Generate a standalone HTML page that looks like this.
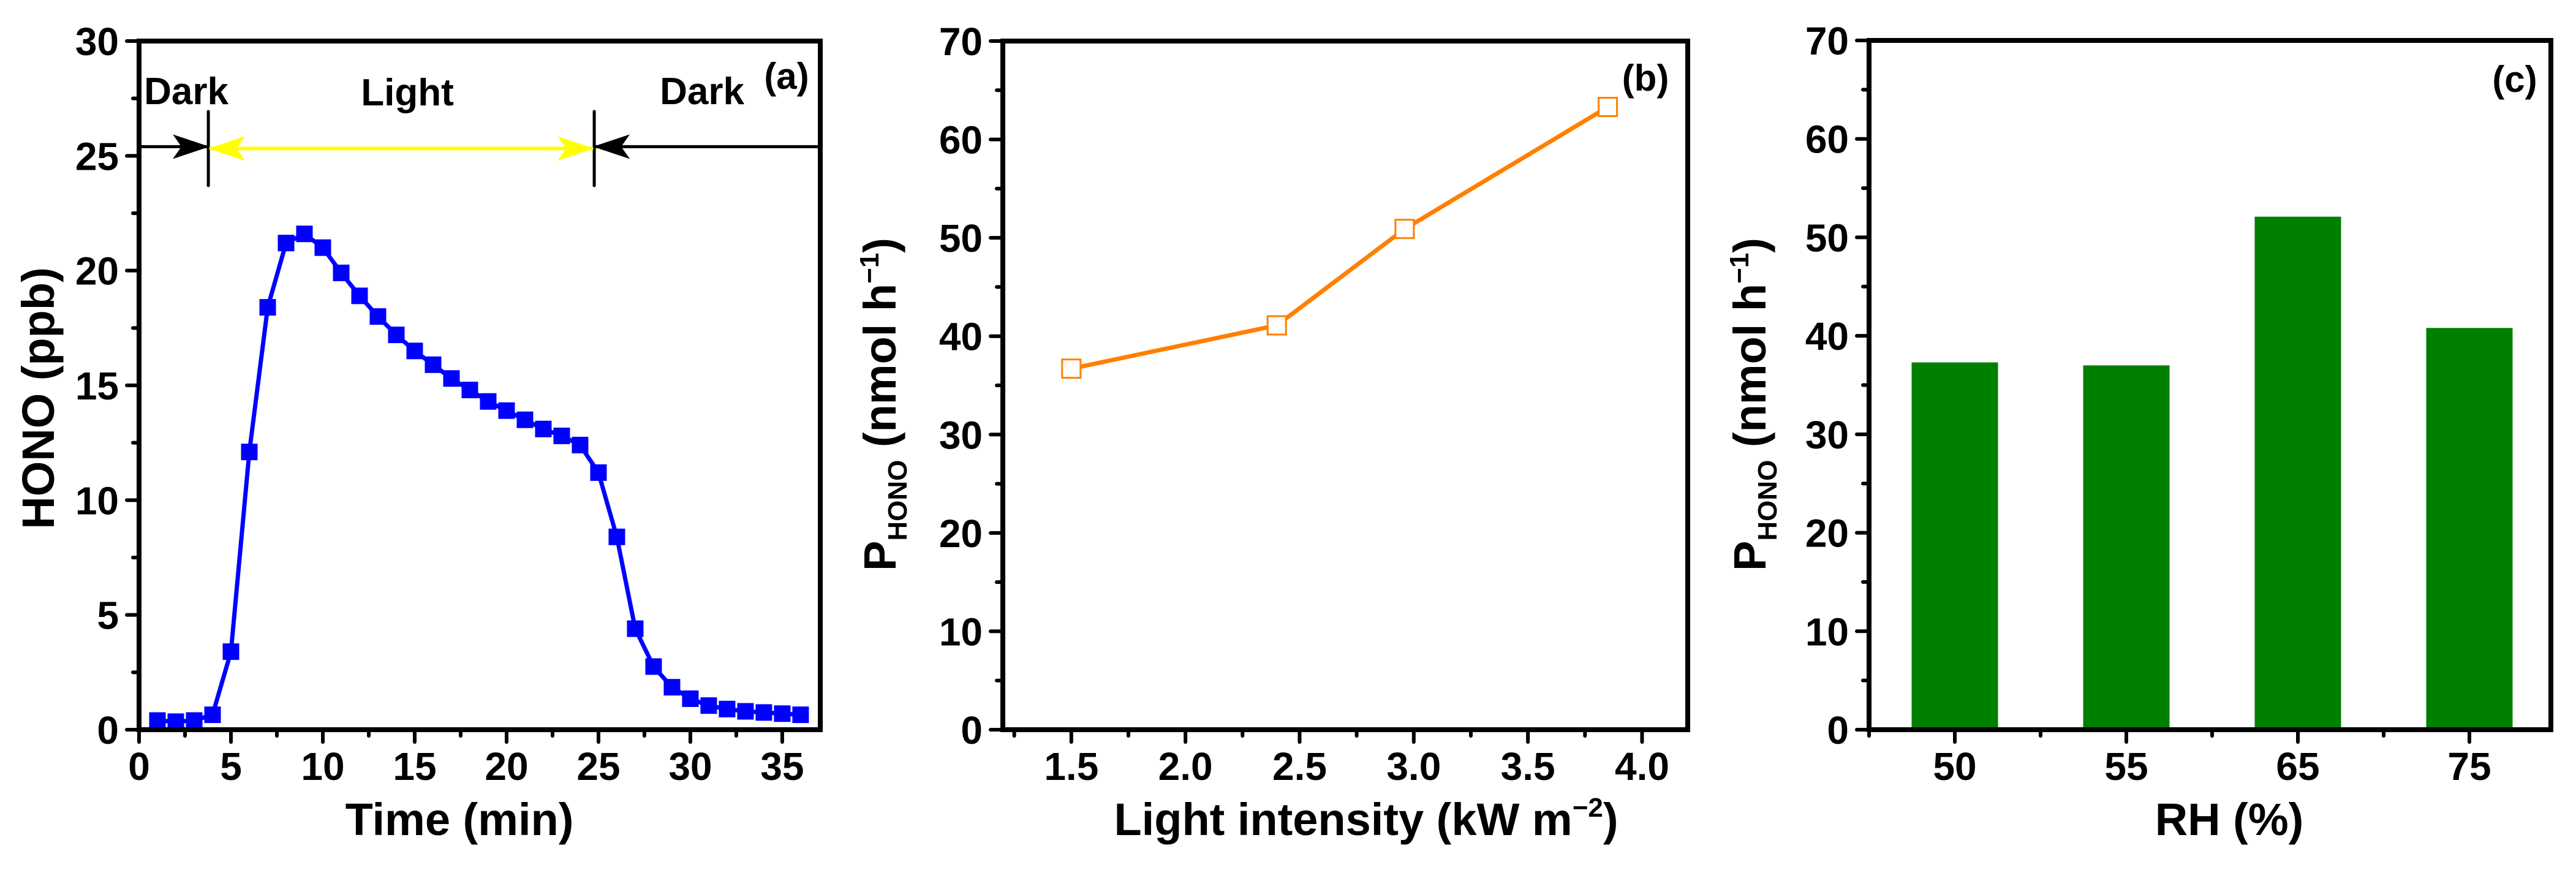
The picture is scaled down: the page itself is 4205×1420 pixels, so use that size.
<!DOCTYPE html>
<html><head><meta charset="utf-8"><style>
html,body{margin:0;padding:0;background:#fff;}
svg{display:block;}
text{font-family:"Liberation Sans",Arial,sans-serif;font-weight:bold;fill:#000;}
</style></head><body>
<svg id="fig" width="4205" height="1420" viewBox="0 0 4205 1420" xmlns="http://www.w3.org/2000/svg">
<defs>
<marker id="ab" viewBox="0 0 60 44" refX="58" refY="22" markerWidth="60" markerHeight="44" markerUnits="userSpaceOnUse" orient="auto-start-reverse"><path d="M0,2 L60,22 L0,42 L14,22 Z" fill="#000"/></marker>
<marker id="ay" viewBox="0 0 60 44" refX="58" refY="22" markerWidth="60" markerHeight="44" markerUnits="userSpaceOnUse" orient="auto-start-reverse"><path d="M0,2 L60,22 L0,42 L14,22 Z" fill="#ffff00"/></marker>
</defs>
</svg>
<script>
// Panel (a) data
const aTime=[1,2,3,4,5,6,7,8,9,10,11,12,13,14,15,16,17,18,19,20,21,22,23,24,25,26,27,28,29,30,31,32,33,34,35,36];
const aHONO=[0.4,0.35,0.4,0.65,3.4,12.1,18.4,21.2,21.6,21.0,19.9,18.9,18.0,17.2,16.5,15.9,15.3,14.8,14.3,13.9,13.5,13.1,12.8,12.4,11.2,8.4,4.4,2.75,1.85,1.35,1.05,0.9,0.8,0.75,0.7,0.65];
const aXTicks=[0,5,10,15,20,25,30,35];
const aYTicks=[0,5,10,15,20,25,30];
// Panel (b) data
const bIntensity=[1.5,2.4,2.96,3.85];
const bPHONO=[36.7,41.1,50.9,63.3];
const bXTicks=[1.5,2.0,2.5,3.0,3.5,4.0];
const bYTicks=[0,10,20,30,40,50,60,70];
// Panel (c) data
const cRH=["50","55","65","75"];
const cPHONO=[37.3,37.0,52.1,40.8];
const cYTicks=[0,10,20,30,40,50,60,70];

const NS="http://www.w3.org/2000/svg";
const svg=document.getElementById('fig');
function el(tag,attrs,parent,text){const e=document.createElementNS(NS,tag);for(const k in attrs)e.setAttribute(k,attrs[k]);if(text!==undefined)e.textContent=text;(parent||svg).appendChild(e);return e;}
function lin(d0,d1,r0,r1){return v=>r0+(v-d0)/(d1-d0)*(r1-r0);}

function frame(g,L,R,T,B,xs,ys,xTicks,yTicks,xMinor,yMinor,fmtX,fmtY){
  for(const v of yMinor){const y=ys(v);const t=el('line',{x1:L-10,x2:L,y1:y,y2:y,stroke:'#000','stroke-width':6,'stroke-linecap':'round'},g);}
  for(const v of xMinor){const x=xs(v);const t=el('line',{x1:x,x2:x,y1:B,y2:B+10,stroke:'#000','stroke-width':6,'stroke-linecap':'round'},g);}
  for(const v of yTicks){const y=ys(v);const t=el('line',{x1:L-20,x2:L,y1:y,y2:y,stroke:'#000','stroke-width':6,'stroke-linecap':'round'},g);
    const l=el('text',{x:L-33,y:y+23,'text-anchor':'end','font-size':64},g,fmtY(v));}
  for(let i=0;i<xTicks.length;i++){const v=xTicks[i];const x=xs(v);const t=el('line',{x1:x,x2:x,y1:B,y2:B+20,stroke:'#000','stroke-width':6,'stroke-linecap':'round'},g);
    const l=el('text',{x:x,y:1273,'text-anchor':'middle','font-size':64},g,fmtX(v,i));}
  const r=el('rect',{x:L,y:T,width:R-L,height:B-T,fill:'none',stroke:'#000','stroke-width':8},g);
  
}

// ---------- Panel A ----------
{
const g=el('g',{});
const L=227,R=1339,T=67,B=1191;
const xs=lin(0,37.07,L,R),ys=lin(0,30,B,T);
const yMinor=[2.5,7.5,12.5,17.5,22.5,27.5];
const xMinor=[2.5,7.5,12.5,17.5,22.5,27.5,32.5];
let d='';aTime.forEach((t,i)=>{d+=(i?'L':'M')+xs(t).toFixed(1)+','+ys(aHONO[i]).toFixed(1);});
const ln=el('path',{d:d,fill:'none',stroke:'#0000ff','stroke-width':7,'stroke-linejoin':'round'},g);

aTime.forEach((t,i)=>{const m=el('rect',{x:xs(t)-13.5,y:ys(aHONO[i])-13.5,width:27,height:27,fill:'#0000ff'},g);
  });
frame(g,L,R,T,B,xs,ys,aXTicks,aYTicks,xMinor,yMinor,v=>String(v),v=>String(v));
const x1=xs(3.77),x2=xs(24.77),ya=ys(25.4);
const v1=el('line',{x1:x1,x2:x1,y1:182,y2:303,stroke:'#000','stroke-width':5,'stroke-linecap':'round'},g);
const v2=el('line',{x1:x2,x2:x2,y1:182,y2:303,stroke:'#000','stroke-width':5,'stroke-linecap':'round'},g);
const a1=el('line',{x1:L,x2:x1,y1:ya,y2:ya,stroke:'#000','stroke-width':5,'marker-end':'url(#ab)'},g);
const a2=el('line',{x1:x1+2,x2:x2-2,y1:ya+3,y2:ya+3,stroke:'#ffff00','stroke-width':6,'marker-start':'url(#ay)','marker-end':'url(#ay)'},g);
const a3=el('line',{x1:R,x2:x2,y1:ya,y2:ya,stroke:'#000','stroke-width':5,'marker-end':'url(#ab)'},g);
const t1=el('text',{x:304,y:170,'text-anchor':'middle','font-size':62},g,'Dark');
const t2=el('text',{x:665,y:172,'text-anchor':'middle','font-size':62},g,'Light');
const t3=el('text',{x:1146,y:170,'text-anchor':'middle','font-size':62},g,'Dark');
const pl=el('text',{x:1284,y:145,'text-anchor':'middle','font-size':60},g,'(a)');
const xt=el('text',{x:750,y:1363,'text-anchor':'middle','font-size':74},g,'Time (min)');
const yt=el('text',{x:0,y:0,'text-anchor':'middle','font-size':74,transform:'translate(88,650) rotate(-90)'},g,'HONO (ppb)');
}

function pTitle(g,cx,cy){
  const t=el('text',{x:0,y:0,'text-anchor':'middle','font-size':74,transform:'translate('+cx+','+cy+') rotate(-90)'},g);
  
  el('tspan',{},t,'P');el('tspan',{'font-size':44,dy:18},t,'HONO');el('tspan',{dy:-18},t,' (nmol h');el('tspan',{'font-size':44,dy:-28},t,'\u22121');el('tspan',{dy:28},t,')');
}

// ---------- Panel B ----------
{
const g=el('g',{});
const L=1637,R=2755,T=67,B=1191;
const xs=lin(1.2,4.2,L,R),ys=lin(0,70,B,T);
const yMinor=[5,15,25,35,45,55,65];
const xMinor=[1.25,1.75,2.25,2.75,3.25,3.75];
let d='';bIntensity.forEach((v,i)=>{d+=(i?'L':'M')+xs(v).toFixed(1)+','+ys(bPHONO[i]).toFixed(1);});
const ln=el('path',{d:d,fill:'none',stroke:'#ff8000','stroke-width':7,'stroke-linejoin':'round'},g);

bIntensity.forEach((v,i)=>{const m=el('rect',{x:xs(v)-15,y:ys(bPHONO[i])-15,width:30,height:30,fill:'#fff',stroke:'#ff8000','stroke-width':3},g);
  });
frame(g,L,R,T,B,xs,ys,bXTicks,bYTicks,xMinor,yMinor,v=>v.toFixed(1),v=>String(v));
const pl=el('text',{x:2686,y:148,'text-anchor':'middle','font-size':60},g,'(b)');
const xt=el('text',{x:2230,y:1363,'text-anchor':'middle','font-size':74},g);
el('tspan',{},xt,'Light intensity (kW m');el('tspan',{'font-size':44,dy:-30},xt,'\u22122');el('tspan',{dy:30},xt,')');
pTitle(g,1462,660);
}

// ---------- Panel C ----------
{
const g=el('g',{});
const L=3051,R=4164,T=66,B=1191;
const xs=lin(0.5,0.5+(R-L)/280,L,R),ys=lin(0,70,B,T);
const yMinor=[5,15,25,35,45,55,65];
const xMinor=[0.5,1.5,2.5,3.5];
const bw=141;
cRH.forEach((c,i)=>{const x=xs(i+1);const b=el('rect',{x:x-bw/2,y:ys(cPHONO[i]),width:bw,height:B-ys(cPHONO[i]),fill:'#008000'},g);
  });
frame(g,L,R,T,B,xs,ys,[1,2,3,4],cYTicks,xMinor,yMinor,(v,i)=>cRH[i],v=>String(v));
const pl=el('text',{x:4105,y:150,'text-anchor':'middle','font-size':60},g,'(c)');
const xt=el('text',{x:3639,y:1363,'text-anchor':'middle','font-size':74},g,'RH (%)');
pTitle(g,2882,660);
}
</script>
</body></html>
